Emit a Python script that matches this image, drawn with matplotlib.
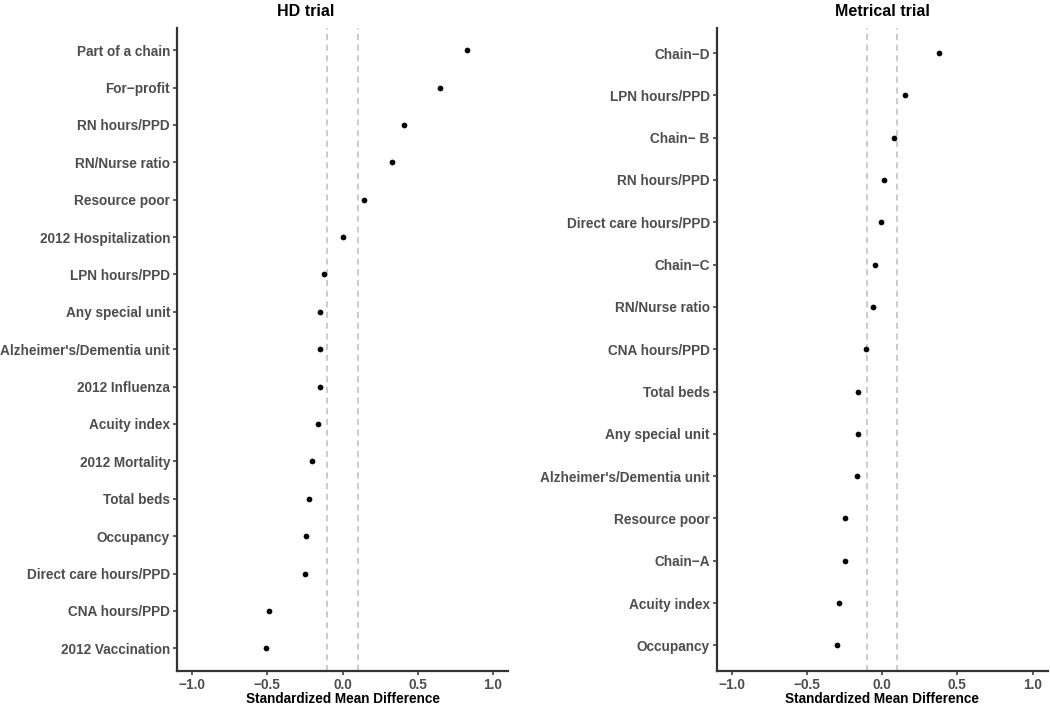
import matplotlib
matplotlib.use("Agg")
import matplotlib.pyplot as plt

plt.rcParams['font.family'] = ['Liberation Sans', 'DejaVu Sans']

hd_labels = ["Part of a chain", "For\u2212profit", "RN hours/PPD", "RN/Nurse ratio",
             "Resource poor", "2012 Hospitalization", "LPN hours/PPD", "Any special unit",
             "Alzheimer's/Dementia unit", "2012 Influenza", "Acuity index", "2012 Mortality",
             "Total beds", "Occupancy", "Direct care hours/PPD", "CNA hours/PPD",
             "2012 Vaccination"]
hd_values = [0.83, 0.65, 0.41, 0.33, 0.14, 0.0, -0.12, -0.15, -0.15, -0.15, -0.16,
             -0.20, -0.22, -0.24, -0.25, -0.49, -0.51]

met_labels = ["Chain\u2212D", "LPN hours/PPD", "Chain\u2212 B", "RN hours/PPD",
              "Direct care hours/PPD", "Chain\u2212C", "RN/Nurse ratio", "CNA hours/PPD",
              "Total beds", "Any special unit", "Alzheimer's/Dementia unit", "Resource poor",
              "Chain\u2212A", "Acuity index", "Occupancy"]
met_values = [0.38, 0.15, 0.08, 0.01, -0.01, -0.05, -0.06, -0.11, -0.16, -0.16, -0.17,
              -0.25, -0.25, -0.29, -0.30]

x_ticks = [-1.0, -0.5, 0.0, 0.5, 1.0]
x_ticklabels = ["\u22121.0", "\u22120.5", "0.0", "0.5", "1.0"]
thresholds = [-0.1, 0.1]

W, H = 1050, 710
fig = plt.figure(figsize=(W / 100, H / 100), dpi=100)

panels = [
    (177, hd_labels, hd_values, "HD trial", 306),
    (716.7, met_labels, met_values, "Metrical trial", 882),
]
top, bottom = 27.7, 670.7
pw = 331
for left, labels, values, title, tx in panels:
    ax = fig.add_axes([left / W, 1 - bottom / H, pw / W, (bottom - top) / H])
    n = len(labels)
    ys = list(range(n, 0, -1))
    for t in thresholds:
        ax.axvline(t, color="#bdbdbd", linestyle=(0, (4, 3)), linewidth=1.1, zorder=1)
    ax.scatter(values, ys, s=17, color="black", zorder=3, linewidths=0)
    ax.set_yticks(ys)
    ax.set_yticklabels(labels)
    ax.set_ylim(0.4, n + 0.6)
    ax.set_xlim(-1.1, 1.1)
    ax.set_xticks(x_ticks)
    ax.set_xticklabels(x_ticklabels)
    for s in ["top", "right"]:
        ax.spines[s].set_visible(False)
    for s in ["left", "bottom"]:
        ax.spines[s].set_color("#333333")
        ax.spines[s].set_linewidth(1.6)
    ax.tick_params(axis="both", colors="#333333", length=3, width=1.1, pad=2,
                   labelcolor="#4d4d4d", labelsize=9.8)
    for lab in ax.get_yticklabels() + ax.get_xticklabels():
        lab.set_fontweight("bold")
    fig.text(tx / W, 1 - 12 / H, title, ha="center", va="center",
             fontsize=11.5, fontweight="bold", color="black")
    fig.text((left + pw / 2) / W, 1 - 699 / H, "Standardized Mean Difference",
             ha="center", va="center", fontsize=9.8, fontweight="bold", color="black")

fig.savefig("out.png", dpi=100)
